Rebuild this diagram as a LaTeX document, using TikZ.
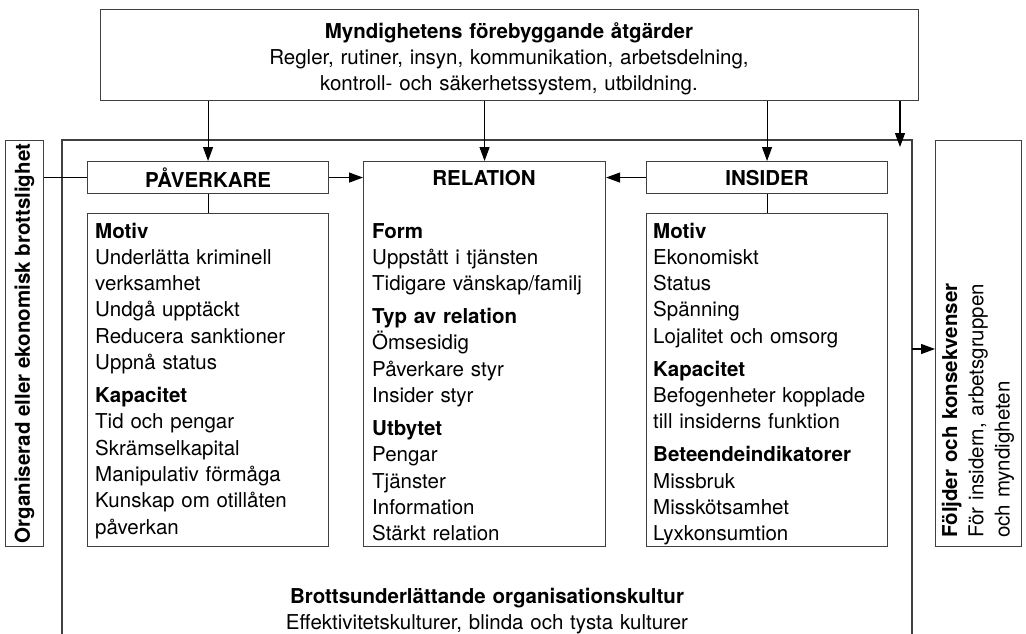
\documentclass[tikz,border=0pt]{standalone}
\usepackage{fontspec}
\setmainfont{TeX Gyre Heros}
\usetikzlibrary{arrows.meta}
\newcommand\myfs{\fontsize{20.5}{26.3}\selectfont}
\newcommand\hgap{\\[6.7pt]}
\tikzset{
  box/.style={draw=black!75, line width=1.1pt, inner sep=0pt, anchor=north west, font=\myfs\bfseries},
  conn/.style={draw=black, line width=1.1pt},
  arr/.style={conn, -{Triangle[length=14pt,width=10pt]}},
  txt/.style={inner sep=0pt, font=\myfs, align=left, text width=#1},
}
\begin{document}
\begin{tikzpicture}[x=1pt,y=-1pt]
\useasboundingbox[fill=white] (0,0) rectangle (1026,633);
% outer organisation frame
\draw[draw=black!75, line width=1.1pt] (62,634) -- (62,140) -- (912,140) -- (912,634);
% boxes
\node[box, minimum width=818pt, minimum height=91pt] (top) at (100,9) {};
\node[box, minimum width=38pt, minimum height=406pt] (left) at (5,140) {};
\node[box, minimum width=86pt, minimum height=406pt] (right) at (935,140) {};
\node[box, minimum width=241pt, minimum height=32pt] (pav) at (87,161) {PÅVERKARE};
\node[box, minimum width=241pt, minimum height=333pt] (pcont) at (87,213) {};
\node[box, minimum width=242pt, minimum height=385pt] (rel) at (363,161) {};
\node[box, minimum width=241pt, minimum height=32pt] (ins) at (646,161) {INSIDER};
\node[box, minimum width=241pt, minimum height=333pt] (icont) at (646,213) {};
% texts
\node[txt=760pt, align=center, anchor=base] (toptxt) at (509,38)
  {\textbf{Myndighetens förebyggande åtgärder}\\
   Regler, rutiner, insyn, kommunikation, arbetsdelning,\\
   kontroll- och säkerhetssystem, utbildning.};
\node[txt=760pt, align=center, anchor=base] (bottxt) at (487,603)
  {\textbf{Brottsunderlättande organisationskultur}\\
   Effektivitetskulturer, blinda och tysta kulturer};
\node[inner sep=0pt, font=\myfs\bfseries, rotate=90, anchor=center] (lefttxt) at (left.center)
  {Organiserad eller ekonomisk brottslighet};
\node[txt=400pt, rotate=90, anchor=base west] (righttxt) at (957,538)
  {\textbf{Följder och konsekvenser}\\För insidern, arbetsgruppen\\och myndigheten};
\node[inner sep=0pt, font=\myfs\bfseries, anchor=base] (reltitle) at (484,185) {RELATION};
\node[txt=230pt, anchor=base west] (pavtxt) at (95,238)
  {\textbf{Motiv}\\Underlätta kriminell\\verksamhet\\Undgå upptäckt\\Reducera sanktioner\\Uppnå status\hgap
   \textbf{Kapacitet}\\Tid och pengar\\Skrämselkapital\\Manipulativ förmåga\\Kunskap om otillåten\\påverkan};
\node[txt=230pt, anchor=base west] (reltxt) at (372,238)
  {\textbf{Form}\\Uppstått i tjänsten\\Tidigare vänskap/familj\hgap
   \textbf{Typ av relation}\\Ömsesidig\\Påverkare styr\\Insider styr\hgap
   \textbf{Utbytet}\\Pengar\\Tjänster\\Information\\Stärkt relation};
\node[txt=230pt, anchor=base west] (instxt) at (653,238)
  {\textbf{Motiv}\\Ekonomiskt\\Status\\Spänning\\Lojalitet och omsorg\hgap
   \textbf{Kapacitet}\\Befogenheter kopplade\\till insiderns funktion\hgap
   \textbf{Beteendeindikatorer}\\Missbruk\\Misskötsamhet\\Lyxkonsumtion};
% connectors
\coordinate (farR) at (900,147);
\coordinate (outR) at (912,349);
\draw[arr] (top.south -| pav.north) -- (pav.north);
\draw[arr] (top.south -| rel.north) -- (rel.north);
\draw[arr] (top.south -| ins.north) -- (ins.north);
\draw[arr] (top.south -| farR) -- (farR);
\draw[conn] (left.east |- pav.west) -- (pav.west);
\draw[arr] (pav.east) -- (pav.east -| rel.west);
\draw[arr] (ins.west) -- (ins.west -| rel.east);
\draw[conn] (pav.south) -- (pcont.north);
\draw[conn] (ins.south) -- (icont.north);
\draw[arr] (outR) -- (outR -| right.west);
\end{tikzpicture}
\end{document}
